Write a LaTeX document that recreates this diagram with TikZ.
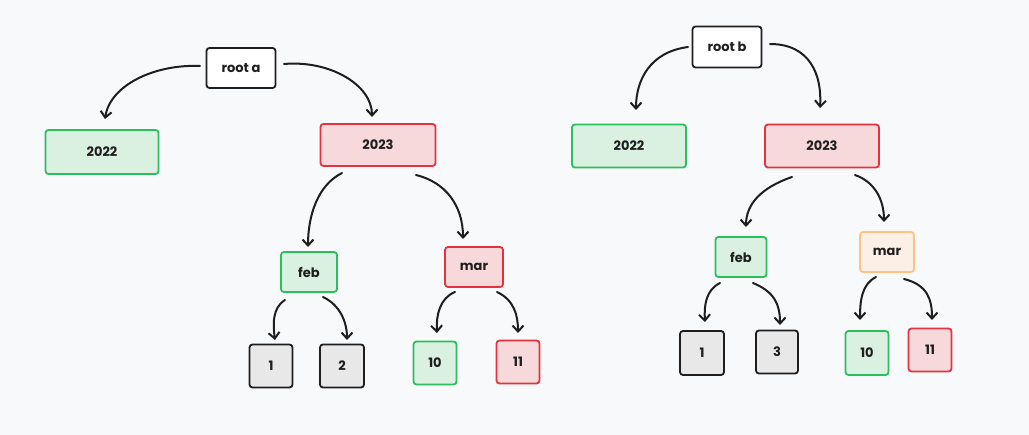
\documentclass[tikz,border=0pt]{standalone}
\usepackage{fontspec}
\setmainfont{Poppins}
\usetikzlibrary{arrows.meta,calc}
\definecolor{bg}{HTML}{F8F9FB}
\definecolor{ink}{HTML}{1E1E1E}
\definecolor{gfill}{HTML}{DAF0E0}
\definecolor{gline}{HTML}{2BBE5C}
\definecolor{rfill}{HTML}{F7D9DC}
\definecolor{rline}{HTML}{E2333F}
\definecolor{kfill}{HTML}{E8E8E8}
\definecolor{ofill}{HTML}{FCF0E6}
\definecolor{oline}{HTML}{FFC285}
\tikzset{
  box/.style={draw=ink, line width=1.8pt, rounded corners=3pt, inner sep=0pt,
    font=\fontsize{13}{15}\selectfont\bfseries, text=ink},
  rootbox/.style={box, fill=white},
  greenbox/.style={box, draw=gline, fill=gfill},
  redbox/.style={box, draw=rline, fill=rfill},
  graybox/.style={box, fill=kfill},
  orangebox/.style={box, draw=oline, fill=ofill},
  arr/.style={draw=ink, line width=2pt, line cap=round,
    -{Straight Barb[length=6pt,width=11pt,line width=2pt]}},
}
\begin{document}
\begin{tikzpicture}[x=1pt,y=-1pt]
\fill[bg] (0,0) rectangle (1029,435);
\useasboundingbox (0,0) rectangle (1029,435);
% left tree
\node[rootbox, minimum width=69pt, minimum height=40pt] (ra) at (241,68) {root a};
\node[greenbox, minimum width=113pt, minimum height=44pt] (a22) at (102,152) {2022};
\node[redbox, minimum width=115pt, minimum height=42pt] (a23) at (378,145) {2023};
\node[greenbox, minimum width=56pt, minimum height=40pt] (afeb) at (309,272) {feb};
\node[redbox, minimum width=58pt, minimum height=40pt] (amar) at (474,267) {mar};
\node[graybox, minimum width=43pt, minimum height=43pt] (a1) at (271,366) {1};
\node[graybox, minimum width=44pt, minimum height=43pt] (a2) at (342,366) {2};
\node[greenbox, minimum width=43pt, minimum height=43pt] (a10) at (435,363) {10};
\node[redbox, minimum width=43pt, minimum height=43pt] (a11) at (518,362) {11};
% right tree
\node[rootbox, minimum width=69pt, minimum height=41pt] (rb) at (727,47) {root b};
\node[greenbox, minimum width=114pt, minimum height=43pt] (b22) at (629,146) {2022};
\node[redbox, minimum width=114pt, minimum height=43pt] (b23) at (822,146) {2023};
\node[greenbox, minimum width=51pt, minimum height=40pt] (bfeb) at (741,257) {feb};
\node[orangebox, minimum width=54pt, minimum height=40pt] (bmar) at (887,252) {mar};
\node[graybox, minimum width=44pt, minimum height=44pt] (b1) at (702,353) {1};
\node[graybox, minimum width=42pt, minimum height=43pt] (b3) at (777,352) {3};
\node[greenbox, minimum width=43pt, minimum height=44pt] (b10) at (867,353) {10};
\node[redbox, minimum width=43pt, minimum height=43pt] (b11) at (930,350) {11};
% left arrows
\draw[arr] ($(ra)+(-41,-2)$) .. controls (155,64) and (110,85) .. ($(a22)+(3,-33)$);
\draw[arr] ($(ra)+(43,-4)$) .. controls (330,60) and (372,85) .. ($(a23)+(-6,-28)$);
\draw[arr] ($(a23)+(-36,28)$) .. controls (318,185) and (308,215) .. ($(afeb)+(-1,-25)$);
\draw[arr] ($(a23)+(38,30)$) .. controls (445,182) and (463,205) .. ($(amar)+(-11,-28)$);
\draw[arr] ($(afeb)+(-24,28)$) .. controls (272,308) and (273,325) .. ($(a1)+(4,-26)$);
\draw[arr] ($(afeb)+(14,25)$) .. controls (340,305) and (347,322) .. ($(a2)+(5,-26)$);
\draw[arr] ($(amar)+(-19,25)$) .. controls (440,298) and (436,315) .. ($(a10)+(2,-30)$);
\draw[arr] ($(amar)+(23,25)$) .. controls (514,300) and (518,315) .. ($(a11)+(0,-29)$);
% right arrows
\draw[arr] ($(rb)+(-39,0)$) .. controls (650,52) and (636,80) .. ($(b22)+(7,-36)$);
\draw[arr] ($(rb)+(43,-3)$) .. controls (810,44) and (822,75) .. ($(b23)+(-2,-38)$);
\draw[arr] ($(b23)+(-30,31)$) .. controls (760,188) and (746,205) .. ($(bfeb)+(5,-30)$);
\draw[arr] ($(b23)+(33,29)$) .. controls (875,182) and (884,200) .. ($(bmar)+(-3,-30)$);
\draw[arr] ($(bfeb)+(-21,26)$) .. controls (706,290) and (704,305) .. ($(b1)+(3,-31)$);
\draw[arr] ($(bfeb)+(12,26)$) .. controls (775,292) and (780,305) .. ($(b3)+(3,-27)$);
\draw[arr] ($(bmar)+(-11,25)$) .. controls (862,284) and (860,300) .. ($(b10)+(-7,-33)$);
\draw[arr] ($(bmar)+(17,27)$) .. controls (928,285) and (932,300) .. ($(b11)+(2,-30)$);
\end{tikzpicture}
\end{document}
